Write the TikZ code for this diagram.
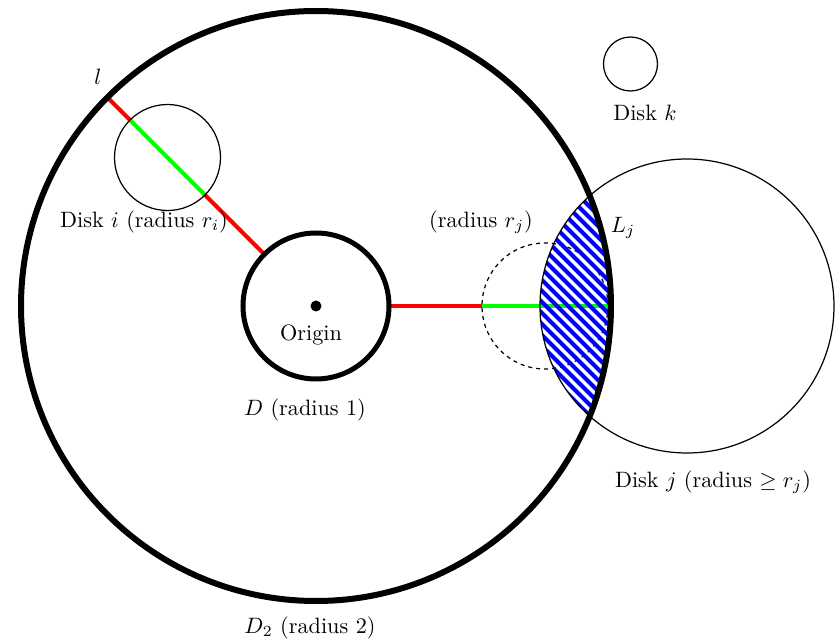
\documentclass[tikz,border=0pt]{standalone}
\usetikzlibrary{calc}
\begin{document}
\begin{tikzpicture}[x=0.45pt,y=0.45pt,
  bigring/.style={line width=2.7pt},
  unitring/.style={line width=2.25pt},
  thinring/.style={line width=0.55pt},
  dashring/.style={line width=0.55pt,dash pattern=on 1.8pt off 1.8pt},
  redseg/.style={red,line width=1.8pt},
  greenseg/.style={green,line width=1.8pt},
  hatchline/.style={blue,line width=1.8pt},
  lbl/.style={inner sep=0pt}]
\useasboundingbox (0,0) rectangle (840,643);
% centres
\coordinate (O) at (316,337);
\coordinate (I) at ($(O)+(135:210)$);
\coordinate (R) at (545,337);
\coordinate (J) at (687,337);
\coordinate (K) at (630.5,579);
% segment end points on the upper-left ray
\coordinate (a1) at ($(O)+(135:295)$);
\coordinate (a2) at ($(O)+(135:263)$);
\coordinate (a3) at ($(O)+(135:157)$);
\coordinate (a4) at ($(O)+(135:73)$);
% segment end points on the right ray
\coordinate (b1) at ($(O)+(73,0)$);
\coordinate (b2) at ($(R)+(-63,0)$);
\coordinate (b3) at ($(R)+(63,0)$);
% dashed disk (radius r_j)
\draw[dashring] (R) circle (63);
% coloured segments
\draw[redseg] (a1) -- (a2);
\draw[greenseg] (a2) -- (a3);
\draw[redseg] (a3) -- (a4);
\draw[redseg] (b1) -- (b2);
\draw[greenseg] (b2) -- (b3);
% hatched lens L_j
\begin{scope}
  \clip (O) circle (295);
  \clip (J) circle (147);
  \foreach \c in {740,751,...,1090} {
    \draw[hatchline] (\c-150,150) -- (\c-550,550);
  }
\end{scope}
% disks
\draw[thinring] (J) circle (147);
\draw[thinring] (I) circle (53);
\draw[thinring] (K) circle (27);
\draw[bigring] (O) circle (295);
\draw[unitring] (O) circle (73);
\fill (O) circle (5.5);
% labels
\node[lbl] (ll) at (98,566) {$l$};
\node[lbl] (li) at (144,421) {Disk $i$ (radius $r_i$)};
\node[lbl] (lo) at (311,308) {Origin};
\node[lbl] (ld) at (305,233) {$D$ (radius 1)};
\node[lbl] (ld2) at (310,15) {$D_2$ (radius 2)};
\node[lbl] (lrj) at (481,421) {(radius $r_j$)};
\node[lbl] (lL) at (623,415) {$L_j$};
\node[lbl] (lk) at (645,530) {Disk $k$};
\node[lbl] (lj) at (713,161) {Disk $j$ (radius $\geq r_j$)};
\end{tikzpicture}
\end{document}
